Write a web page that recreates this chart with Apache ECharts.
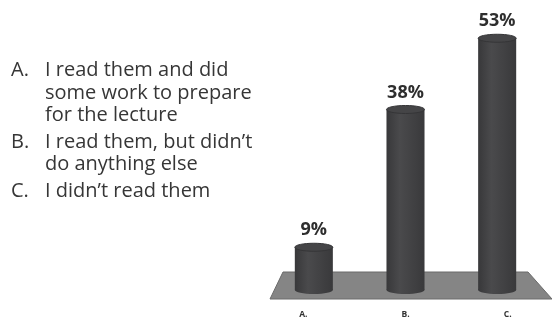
<!DOCTYPE html>
<html><head><meta charset="utf-8">
<script src="https://cdn.jsdelivr.net/npm/echarts@6/dist/echarts.min.js"></script>
<style>html,body{margin:0;padding:0;background:#fff}#c{width:552px;height:318px}</style>
</head><body><div id="c"></div>
<script>
var categories = ['A.', 'B.', 'C.'];
var values = [9, 38, 53];
var legendLines = [
  ['A.', 'I read them and did'],
  ['', 'some work to prepare'],
  ['', 'for the lecture'],
  ['B.', 'I read them, but didn\u2019t'],
  ['', 'do anything else'],
  ['C.', 'I didn\u2019t read them']
];

var chart = echarts.init(document.getElementById('c'), null, {renderer: 'canvas'});
var grad = new echarts.graphic.LinearGradient(0, 0, 1, 0, [
  {offset: 0, color: '#38383a'}, {offset: 0.35, color: '#4a4a4c'}, {offset: 1, color: '#39393b'}
]);
var textEls = [];
var lineY = [73, 96, 118, 145, 167, 194];
legendLines.forEach(function (l, k) {
  if (l[0]) textEls.push({type: 'text', left: 11, top: lineY[k] - 13, style: {text: l[0], font: '20px "Open Sans"', fill: '#363636'}});
  textEls.push({type: 'text', left: 45, top: lineY[k] - 13, style: {text: l[1], font: '20px "Open Sans"', fill: '#363636'}});
});
textEls.push({type: 'polygon', z: -1, shape: {points: [[283, 272], [528, 272], [552, 299], [270, 299]]}, style: {fill: '#858585', stroke: '#6a6a6a', lineWidth: 1}});

chart.setOption({
  animation: false,
  grid: {left: 268, right: 9, top: 5, bottom: 28},
  xAxis: {type: 'category', data: categories, show: false},
  yAxis: {type: 'value', min: 0, max: 60, show: false},
  graphic: textEls,
  series: [{
    type: 'custom',
    data: values.map(function (v, i) { return [i, v]; }),
    renderItem: function (params, api) {
      var i = api.value(0), v = api.value(1);
      var top = api.coord([i, v]);
      var base = api.coord([i, 0]);
      var w = api.size([1, 0])[0] * 0.415;
      var ry = 4;
      return {
        type: 'group',
        children: [
          {type: 'ellipse', shape: {cx: base[0], cy: base[1], rx: w / 2, ry: ry}, style: {fill: grad}},
          {type: 'rect', shape: {x: top[0] - w / 2, y: top[1], width: w, height: base[1] - top[1]}, style: {fill: grad}},
          {type: 'ellipse', shape: {cx: top[0], cy: top[1], rx: w / 2, ry: ry}, style: {fill: '#454547', stroke: '#353537', lineWidth: 1}},
          {type: 'text', style: {text: v + '%', x: top[0], y: top[1] - 8, align: 'center', verticalAlign: 'bottom', font: 'bold 18px "Open Sans"', fill: '#2e2e2e'}},
          {type: 'text', style: {text: categories[i], x: base[0] + (i - 1) * 10.5, y: 315, align: 'center', verticalAlign: 'middle', font: 'bold 8.5px "Open Sans"', fill: '#333'}}
        ]
      };
    }
  }]
});
</script></body></html>
